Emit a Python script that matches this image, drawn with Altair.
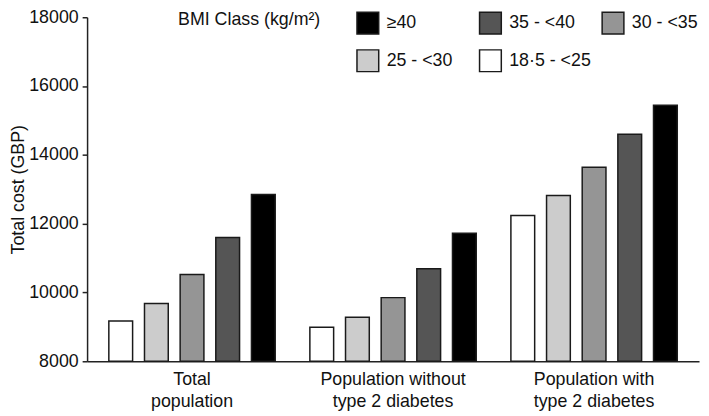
import json
import altair as alt
import pandas as pd

groups = ["Total population", "Population without type 2 diabetes", "Population with type 2 diabetes"]
group_lines = [["Total", "population"], ["Population without", "type 2 diabetes"], ["Population with", "type 2 diabetes"]]
bmi_classes = ["18·5 - <25", "25 - <30", "30 - <35", "35 - <40", "≥40"]
bmi_colors = ["#ffffff", "#cccccc", "#959595", "#555555", "#000000"]
total_pop = [9170, 9680, 10520, 11600, 12850]
without_t2d = [8990, 9280, 9850, 10690, 11720]
with_t2d = [12240, 12820, 13640, 14600, 15440]
y_ticks = [8000, 10000, 12000, 14000, 16000, 18000]

rows = []
for g, vals in zip(groups, [total_pop, without_t2d, with_t2d]):
    for c, v in zip(bmi_classes, vals):
        rows.append({"group": g, "bmi": c, "cost": v})
df = pd.DataFrame(rows)

expr = ""
for g, lines in zip(groups, group_lines):
    expr += f"datum.value == {json.dumps(g)} ? {json.dumps(lines)} : "
expr += "datum.value"

FONT = "Liberation Sans"
legend_order = bmi_classes[::-1]
legend_colors = bmi_colors[::-1]

chart = alt.Chart(df).mark_bar(stroke="#1a1a1a", strokeWidth=1.5).encode(
    x=alt.X("group:N", sort=groups, title=None,
            scale=alt.Scale(paddingInner=0, paddingOuter=0.022),
            axis=alt.Axis(labelExpr=expr, labelAngle=0, ticks=False, labelFontSize=18,
                          labelLineHeight=22, labelPadding=10, domainColor="#222222",
                          domainWidth=1.5, labelColor="#111111", labelFont=FONT)),
    xOffset=alt.XOffset("bmi:N", sort=bmi_classes,
                        scale=alt.Scale(paddingInner=1/3, paddingOuter=0.486)),
    y=alt.Y("cost:Q", title="Total cost (GBP)",
            scale=alt.Scale(domain=[8000, 18000], zero=False, nice=False),
            axis=alt.Axis(values=y_ticks, format="d", grid=False, tickSize=5, tickColor="#222222",
                          tickWidth=1.5, domainColor="#222222", domainWidth=1.5,
                          labelFontSize=18, labelPadding=4, titleFontSize=18,
                          titleFontWeight="normal", titlePadding=1, labelColor="#111111",
                          titleColor="#111111", labelFont=FONT, titleFont=FONT)),
    y2=alt.datum(8000),
    color=alt.Color("bmi:N", title="BMI Class (kg/m²)",
                    scale=alt.Scale(domain=legend_order, range=legend_colors),
                    legend=alt.Legend(orient="none", legendX=92, legendY=-6, columns=3,
                                      direction="horizontal", gridAlign="all",
                                      columnPadding=8, rowPadding=10,
                                      symbolType="square", symbolSize=484,
                                      symbolStrokeColor="#1a1a1a", symbolStrokeWidth=1.5,
                                      symbolOpacity=1, labelFontSize=18, labelOffset=7,
                                      labelFont=FONT, labelColor="#111111",
                                      titleOrient="left", titleAnchor="start",
                                      titleBaseline="top", titleFontSize=18,
                                      titleFontWeight="normal", titleFont=FONT,
                                      titleColor="#111111", titlePadding=36)),
).properties(
    width=619, height=348,
    autosize=alt.AutoSizeParams(type="none"),
    padding={"left": 80, "top": 7, "right": 2, "bottom": 53},
).configure_view(stroke=None)

chart.save("out.html", embed_options={"renderer": "svg", "actions": False})
